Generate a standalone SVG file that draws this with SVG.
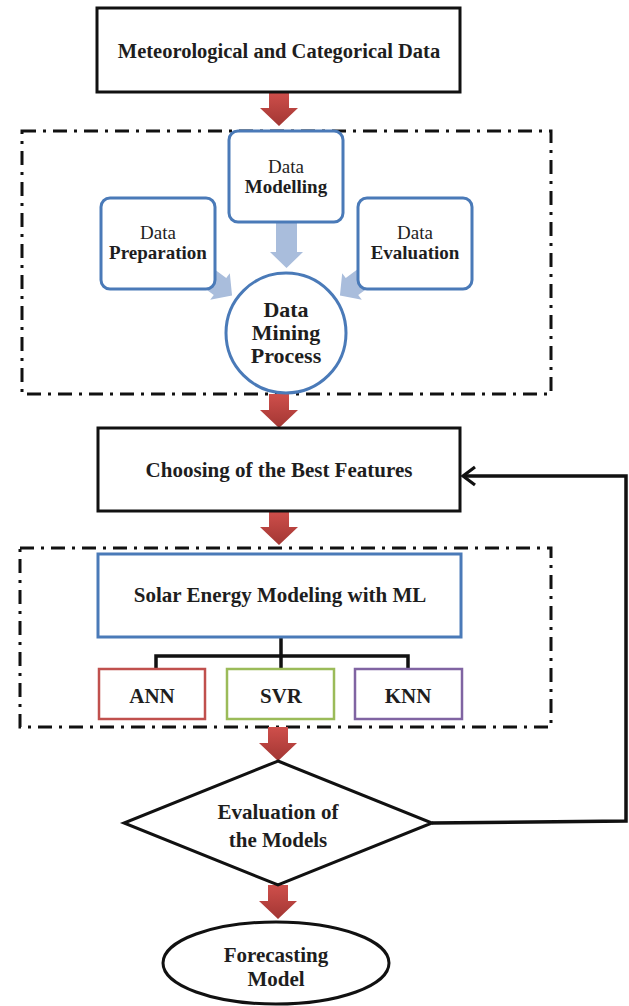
<svg xmlns="http://www.w3.org/2000/svg" width="629" height="1006" viewBox="0 0 629 1006">
<defs>
<linearGradient id="red" x1="0" y1="0" x2="0" y2="1">
<stop offset="0" stop-color="#cf4f4b"/>
<stop offset="1" stop-color="#a23633"/>
</linearGradient>
<symbol id="redArrow" overflow="visible">
<polygon points="-10,0 10,0 10,16 19,16 0,34 -19,16 -10,16" fill="url(#red)"/>
</symbol>
<marker id="open" viewBox="0 0 18 22" refX="15" refY="11" markerWidth="18" markerHeight="22" markerUnits="userSpaceOnUse" orient="auto">
<polyline points="3,2 15,11 3,20" fill="none" stroke="#111" stroke-width="3.2"/>
</marker>
</defs>
<style>
.t{font-family:"Liberation Serif","Times New Roman",serif;font-weight:bold;fill:#1e1e1e;text-anchor:middle}
.r{font-weight:normal}
.blk{fill:#fff;stroke:#111;stroke-width:3}
.blu{fill:#fff;stroke:#4a7ab8;stroke-width:3}
.dash{fill:none;stroke:#111;stroke-width:3;stroke-dasharray:14 7 3 7}
.lb{fill:#a9bddc}
.conn{fill:none;stroke:#111;stroke-width:3.5}
</style>

<g id="group1"><rect class="dash" x="22" y="131" width="529" height="263"/></g>
<g id="group2"><rect class="dash" x="20" y="548" width="531" height="179"/></g>

<g id="connectors">
<use href="#redArrow" x="279" y="92"/>
<use href="#redArrow" x="279" y="394"/>
<use href="#redArrow" x="279" y="511"/>
<use href="#redArrow" x="278" y="727"/>
<use href="#redArrow" x="278" y="885"/>
<polygon class="lb" points="276,222 297,222 297,252 303,252 286.5,268 270,252 276,252"/>
<polygon class="lb" transform="translate(220,286.5) rotate(36.5)" points="-40,-10.5 0,-10.5 0,-16.5 15,0 0,16.5 0,10.5 -40,10.5"/>
<polygon class="lb" transform="translate(352,286.5) rotate(143.5)" points="-40,-10.5 0,-10.5 0,-16.5 15,0 0,16.5 0,10.5 -40,10.5"/>
<polyline class="conn" points="281,637 281,656"/>
<polyline class="conn" points="156,669 156,656 408,656 408,669"/>
<line class="conn" x1="281" y1="656" x2="281" y2="669"/>
<polyline fill="none" stroke="#111" stroke-width="3.5" points="432,823 626,821 626,476 463,476" marker-end="url(#open)"/>
</g>

<g id="n-data"><rect class="blk" x="97" y="8" width="363" height="84"/><text class="t" x="279" y="58" font-size="20.5">Meteorological and Categorical Data</text></g>

<g id="n-modelling"><rect class="blu" x="229" y="131" width="114" height="91" rx="9"/><text class="t r" x="286" y="173" font-size="19">Data</text><text class="t" x="286" y="193" font-size="19">Modelling</text></g>
<g id="n-preparation"><rect class="blu" x="101" y="198" width="114" height="91" rx="9"/><text class="t r" x="158" y="239" font-size="19">Data</text><text class="t" x="158" y="259" font-size="19">Preparation</text></g>
<g id="n-evaluation"><rect class="blu" x="358" y="198" width="114" height="91" rx="9"/><text class="t r" x="415" y="239" font-size="19">Data</text><text class="t" x="415" y="259" font-size="19">Evaluation</text></g>
<g id="n-mining"><ellipse class="blu" cx="286" cy="333" rx="60" ry="60"/><text class="t" x="286" y="317" font-size="22">Data</text><text class="t" x="286" y="340" font-size="22">Mining</text><text class="t" x="286" y="363" font-size="22">Process</text></g>

<g id="n-features"><rect class="blk" x="98" y="428" width="362" height="83"/><text class="t" x="279" y="477" font-size="21">Choosing of the Best Features</text></g>

<g id="n-solar"><rect class="blu" x="98" y="554" width="363" height="83"/><text class="t" x="280" y="602" font-size="21">Solar Energy Modeling with ML</text></g>
<g id="n-ann"><rect x="99" y="669" width="106" height="50" fill="#fff" stroke="#c0504d" stroke-width="2.5"/><text class="t" x="152" y="703" font-size="21">ANN</text></g>
<g id="n-svr"><rect x="227" y="669" width="107" height="50" fill="#fff" stroke="#9bbb59" stroke-width="2.5"/><text class="t" x="281" y="703" font-size="21">SVR</text></g>
<g id="n-knn"><rect x="355" y="669" width="107" height="50" fill="#fff" stroke="#8064a2" stroke-width="2.5"/><text class="t" x="408" y="703" font-size="21">KNN</text></g>

<g id="n-evalmodels"><polygon class="blk" points="278,761 432,823 278,885 124,823"/><text class="t" x="278" y="819" font-size="21">Evaluation of</text><text class="t" x="278" y="847" font-size="21">the Models</text></g>

<g id="n-forecast"><ellipse class="blk" cx="276" cy="963" rx="113" ry="41"/><text class="t" x="276" y="962" font-size="21">Forecasting</text><text class="t" x="276" y="986" font-size="21">Model</text></g>
</svg>
